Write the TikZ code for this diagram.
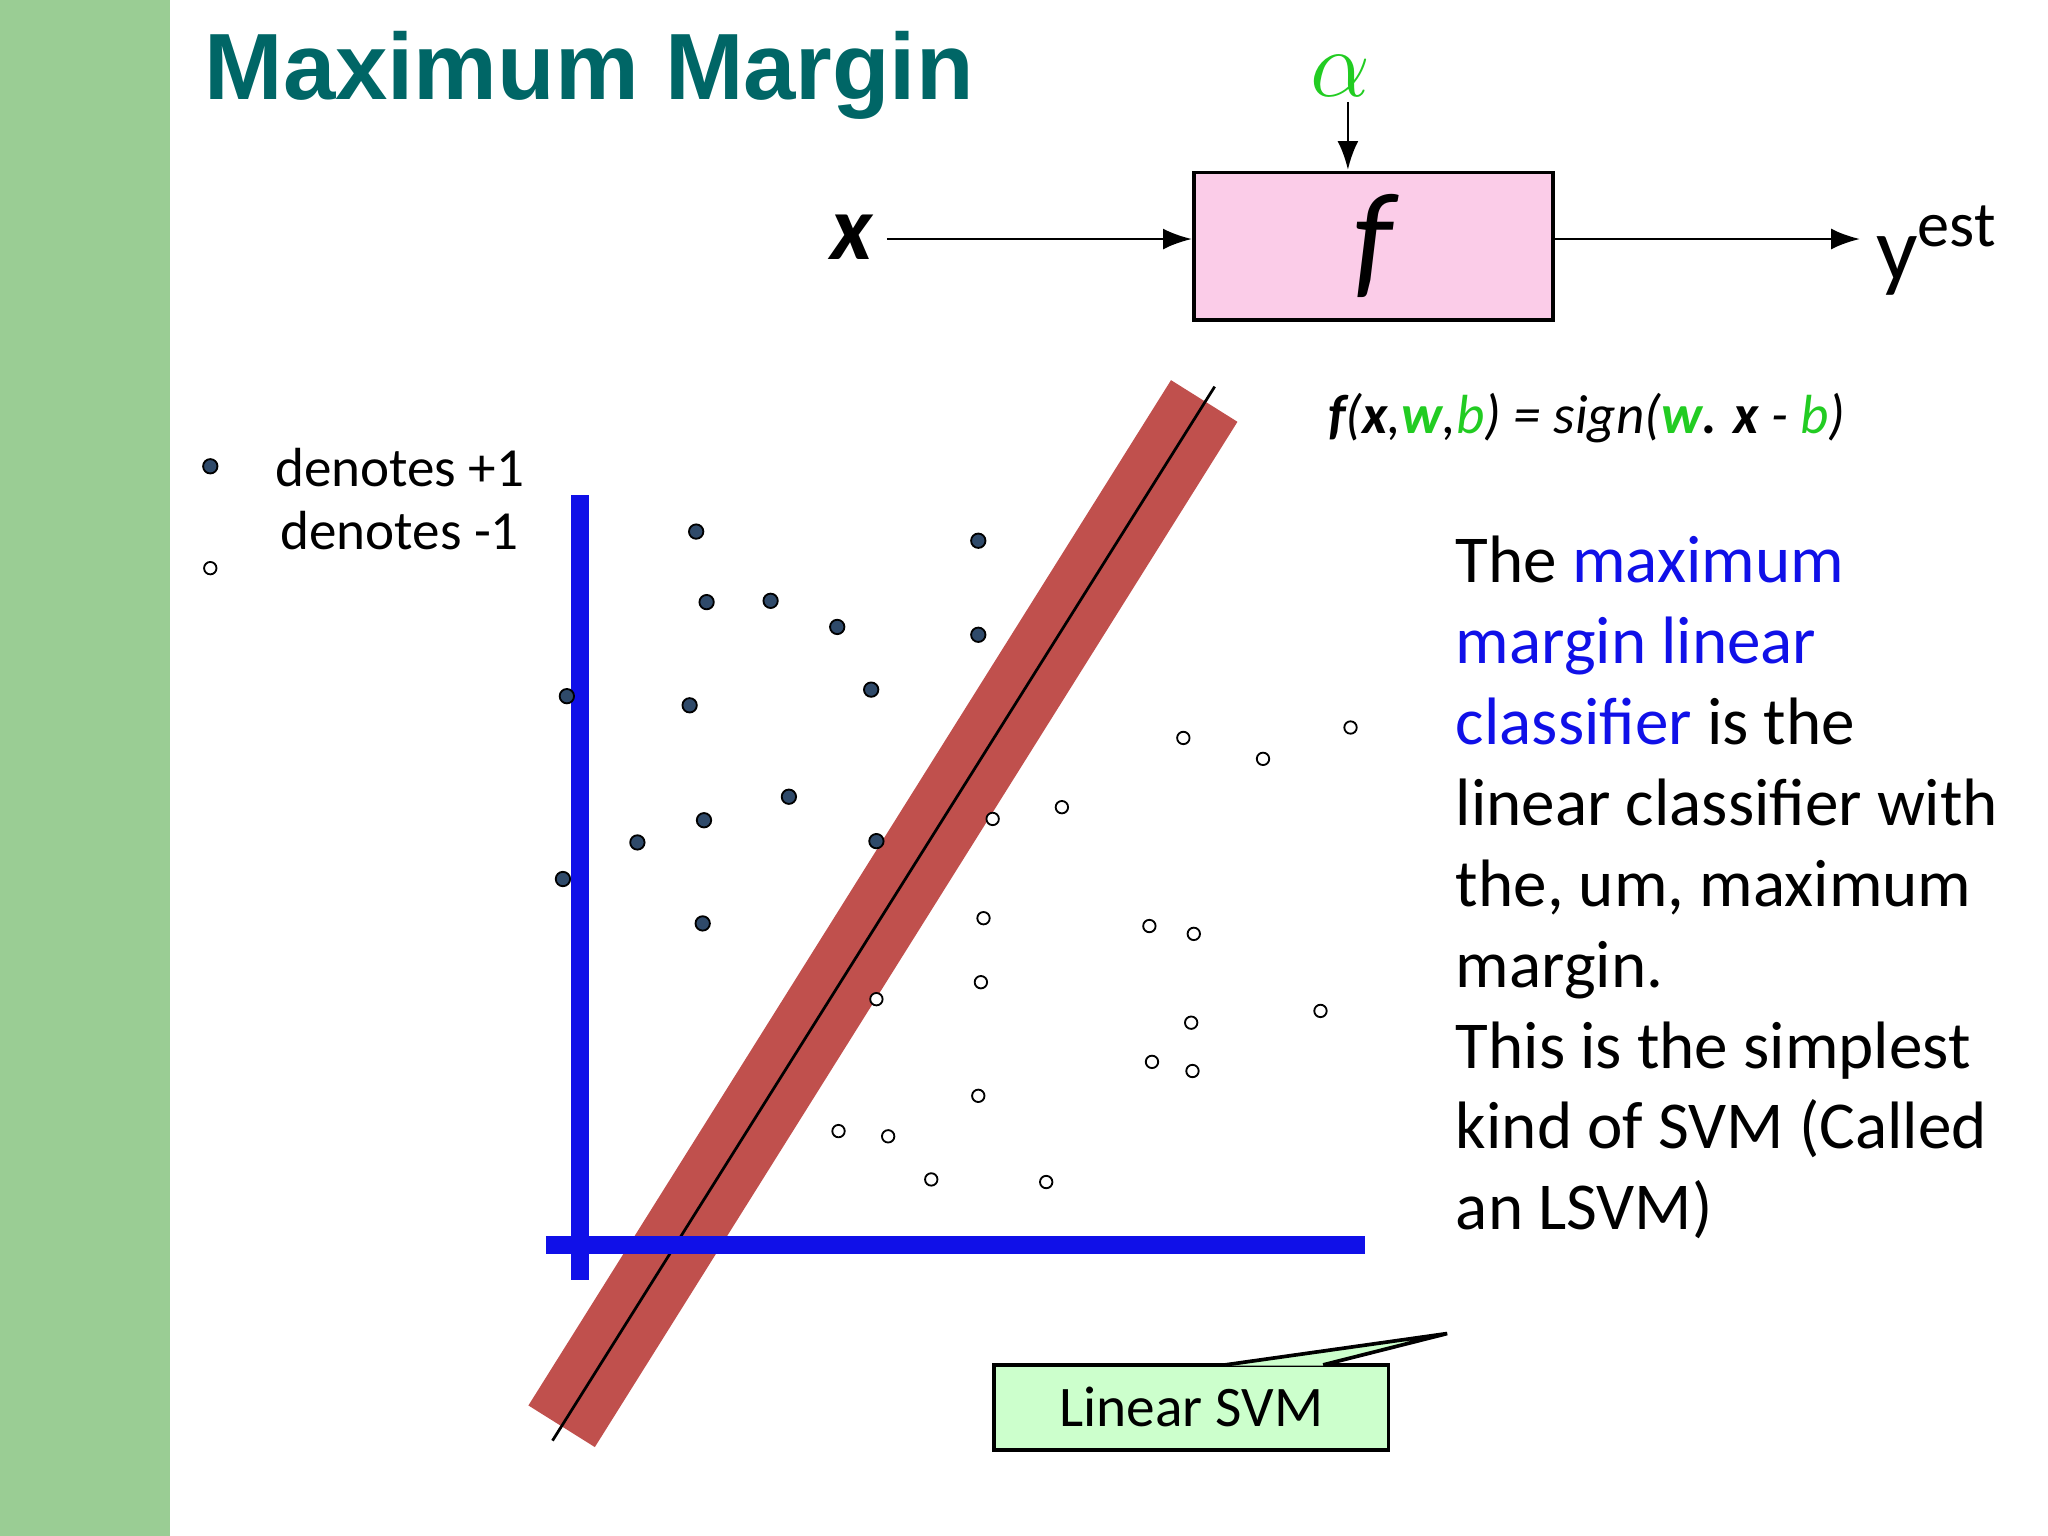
\documentclass[tikz,border=0pt]{standalone}
\usepackage{fontspec}
\setmainfont{Carlito}
\newfontfamily\titlefont{Liberation Sans}
\usetikzlibrary{arrows.meta}
\definecolor{side}{HTML}{9ACD94}
\definecolor{titlec}{HTML}{006666}
\definecolor{band}{HTML}{C0504D}
\definecolor{pos}{HTML}{2F4A6A}
\definecolor{bluet}{HTML}{1010E8}
\definecolor{greent}{HTML}{22CC22}
\tikzset{
 posdot/.style={circle,fill=pos,draw=black,line width=0.4pt,inner sep=0pt,minimum size=0.11cm},
 negdot/.style={circle,fill=white,draw=black,line width=0.4pt,inner sep=0pt,minimum size=0.095cm},
 arr/.style={-{Latex[length=2.2mm,width=1.6mm]},line width=0.6pt},
 body/.style={font=\fontsize{14.6}{17.6}\selectfont,anchor=north west,align=left,inner sep=0pt}
}
\begin{document}
\begin{tikzpicture}[x=0.01cm,y=-0.01cm]
\useasboundingbox (0,0) rectangle (1568,1176);
\fill[side] (0,0) rectangle (130,1176);
\node[anchor=west,text=titlec,font=\titlefont\bfseries\fontsize{20.5}{24}\selectfont,inner sep=0pt] (title) at (156,58) {Maximum Margin};
% block diagram
\node[draw,fill=magenta!20,minimum width=2.75cm,minimum height=1.13cm,line width=0.8pt] (f) at (1051.5,188.5) {\fontsize{28}{30}\selectfont\itshape f};
\node (x) at (652,182) {\fontsize{20}{24}\selectfont\itshape\bfseries x};
\node (y) at (1483,192) {\fontsize{20}{24}\selectfont y\textsuperscript{est}};
\node[text=greent] (al) at (1026,58) {\fontsize{22}{26}\selectfont$\alpha$};
\draw[arr] (679,183) -- (f.west |- 0,183);
\draw[arr] (f.east |- 0,183) -- (1424,183);
\draw[arr] (1032,78) -- (1032,130);
\node[anchor=center,font=\fontsize{12}{14}\selectfont\itshape] (form) at (1215,320) {\textbf{f}(\textbf{x},{\color{greent}\textbf{w}},{\color{greent}b}) = sign({\color{greent}\textbf{w}}\textbf{.} \textbf{x} - {\color{greent}b})};
% legend
\node[posdot] (lp) at (161,357) {};
\node[negdot] (ln) at (161,435) {};
\node[font=\fontsize{12}{15}\selectfont] (lt1) at (306,358) {denotes +1};
\node[font=\fontsize{12}{15}\selectfont] (lt2) at (306,406) {denotes -1};
% band
\draw[band,line width=0.6cm] (922,307) -- (430,1092);
\draw[line width=0.6pt] (930,296) -- (423,1103);
% axes
\draw[bluet,line width=1.4mm] (444,379) -- (444,980);
\draw[bluet,line width=1.4mm] (418,953) -- (1045,953);
% points
\foreach \p in {(533,407),(749,414),(541,461),(590,460),(641,480),(749,486),(434,533),(528,540),(667,528),(604,610),(539,628),(488,645),(671,644),(431,673),(538,707)}
  \node[posdot] at \p {};
\foreach \p in {(906,565),(967,581),(1034,557),(760,627),(813,618),(753,703),(880,709),(914,715),(751,752),(671,765),(912,783),(1011,774),(882,813),(913,820),(749,839),(642,866),(680,870),(713,903),(801,905)}
  \node[negdot] at \p {};
% text
\node[body] (txt) at (1114,410) {The {\color{bluet}maximum}\\{\color{bluet}margin linear}\\{\color{bluet}classifier} is the\\linear classifier with\\the, um, maximum\\margin.\\This is the simplest\\kind of SVM (Called\\an LSVM)};
% callout
\node[draw,fill=green!20,line width=0.8pt,minimum width=3.02cm,minimum height=0.65cm,font=\fontsize{12.5}{15}\selectfont] (svm) at (912,1077.5) {Linear SVM};
\fill[green!20] (938,1045.5) -- (1108,1021) -- (1013,1045.5) -- cycle;
\draw[line width=0.8pt] (938,1045) -- (1108,1021) -- (1013,1045);
\end{tikzpicture}
\end{document}
